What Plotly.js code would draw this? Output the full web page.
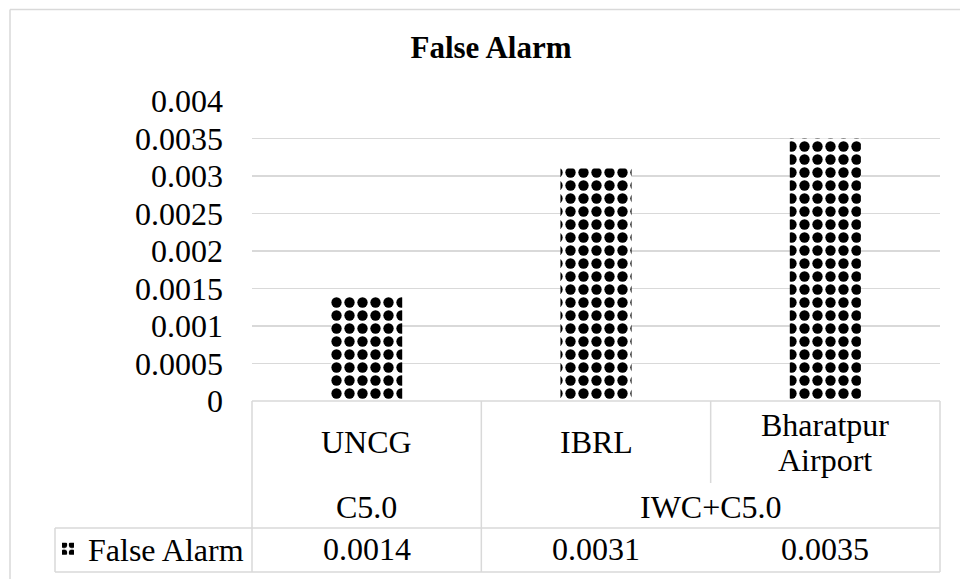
<!DOCTYPE html>
<html>
<head>
<meta charset="utf-8">
<script src="https://cdn.plot.ly/plotly-3.0.1.min.js"></script>
<style>html,body{margin:0;padding:0;background:#fff;}</style>
</head>
<body>
<div id="chart" style="width:960px;height:579px;"></div>
<script>
// Categories, grouping and values
const categories = ['UNCG', 'IBRL', 'Bharatpur Airport'];
const groupLabels = ['C5.0', 'IWC+C5.0'];
const groupSpans = [1, 2];
const seriesName = 'False Alarm';
const falseAlarm = [0.0014, 0.0031, 0.0035];
const yTickVals = [0, 0.0005, 0.001, 0.0015, 0.002, 0.0025, 0.003, 0.0035, 0.004];
const yTickText = ['0', '0.0005', '0.001', '0.0015', '0.002', '0.0025', '0.003', '0.0035', '0.004'];

// Page geometry
const W = 960, H = 579;
const M = {l: 252, r: 20, t: 101, b: 178, autoexpand: false};
const plotW = W - M.l - M.r, plotH = H - M.t - M.b;
const FONT = 'Liberation Serif, Times New Roman, serif';
const FS = 32;
const GRID = '#d9d9d9';
const nCat = categories.length;

// pixel -> paper helpers for the data-table drawn under the axis
const px = x => (x - M.l) / plotW;
const py = y => (H - M.b - y) / plotH;
const edge = b => b / nCat; // paper x of the b-th category boundary

const shapes = [];
const line = (x0, y0, x1, y1) => shapes.push({
  type: 'line', xref: 'paper', yref: 'paper', x0, y0, x1, y1,
  line: {color: GRID, width: 1.5}
});

// chart-area border (top and left sides)
line(px(10), py(9.5), px(W + 20), py(9.5));
line(px(10), py(9.5), px(10), py(H + 20));

// data table rows
const rowGroupTop = 483, rowValTop = 528, rowBottom = 572;
line(0, 0, 1, 0);
line(px(55), py(rowValTop), 1, py(rowValTop));
line(px(55), py(rowBottom), 1, py(rowBottom));
line(px(55), py(rowValTop), px(55), py(rowBottom));

// vertical boundaries: full height between groups, short inside a group
const groupEdges = new Set([0]);
let acc = 0;
groupSpans.forEach(s => { acc += s; groupEdges.add(acc); });
for (let b = 0; b <= nCat; b++) {
  const bottom = groupEdges.has(b) ? rowBottom : rowGroupTop;
  line(edge(b), 0, edge(b), py(bottom));
}

const annotations = [];
const txt = (x, xref, y, text) => annotations.push({
  x, xref, y: py(y), yref: 'paper', text, showarrow: false,
  xanchor: 'center', yanchor: 'middle',
  font: {family: FONT, size: FS, color: '#000'}
});

// category labels (wrapped per word when they contain spaces)
const LINE_GAP = 35;
categories.forEach((c, i) => {
  const parts = c.split(' ');
  parts.forEach((p, j) => txt(i, 'x', 442 + (j - (parts.length - 1) / 2) * LINE_GAP, p));
});

// group labels centred over their span
let start = 0;
groupLabels.forEach((g, k) => {
  const span = groupSpans[k];
  txt(start + (span - 1) / 2, 'x', 507, g);
  start += span;
});

// value row
falseAlarm.forEach((v, i) => txt(i, 'x', 549, v.toFixed(4)));

const trace = {
  type: 'bar',
  name: seriesName,
  x: categories,
  y: falseAlarm,
  width: 0.31,
  marker: {
    color: '#ffffff',
    line: {width: 0},
    pattern: {shape: '.', fgcolor: '#000000', bgcolor: '#ffffff', size: 13, solidity: 0.5}
  },
  hoverinfo: 'skip'
};

const layout = {
  width: W, height: H,
  margin: M,
  paper_bgcolor: '#ffffff',
  plot_bgcolor: '#ffffff',
  font: {family: FONT, size: FS, color: '#000'},
  title: {
    text: 'False Alarm',
    font: {family: FONT, size: 31, color: '#000', weight: 'bold'},
    x: 491 / W, xref: 'container', xanchor: 'center',
    y: 1 - 47 / H, yref: 'container', yanchor: 'middle'
  },
  showlegend: true,
  legend: {
    x: px(48), xanchor: 'left',
    y: py(549), yanchor: 'middle',
    bgcolor: 'rgba(0,0,0,0)', borderwidth: 0,
    font: {family: FONT, size: FS, color: '#000'},
    itemwidth: 30
  },
  xaxis: {
    type: 'category',
    range: [-0.5, nCat - 0.5],
    showticklabels: false, showgrid: false, zeroline: false, showline: false, ticks: ''
  },
  yaxis: {
    range: [0, 0.004],
    tickvals: yTickVals, ticktext: yTickText,
    showgrid: true, gridcolor: GRID, gridwidth: 1.5,
    zeroline: false, showline: false, ticks: '',
    ticklabelstandoff: 28,
    tickfont: {family: FONT, size: FS, color: '#000'}
  },
  shapes, annotations
};

Plotly.newPlot('chart', [trace], layout, {displayModeBar: false, staticPlot: true});
</script>
</body>
</html>
